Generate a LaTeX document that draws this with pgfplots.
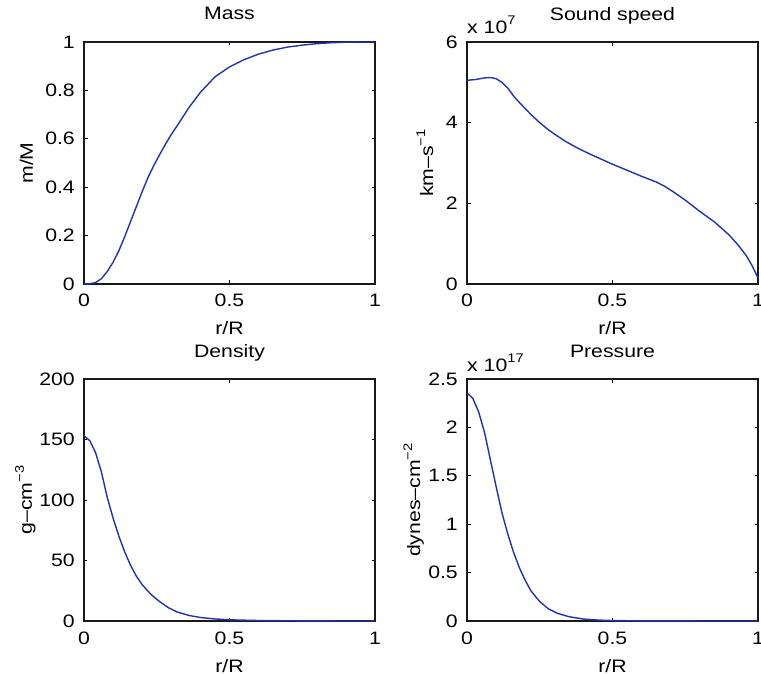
\documentclass[border=0pt]{standalone}
\usepackage{fontspec}
\setmainfont{Liberation Sans}[FakeStretch=1.18]
\usepackage{pgfplots}
\pgfplotsset{compat=1.18}

\definecolor{mblue}{RGB}{32,52,170}
\newcommand\supx[1]{\raisebox{0.45em}{\fontsize{12.5}{13}\selectfont #1}}
\newcommand\fs{\fontsize{18}{21}\selectfont}

\pgfplotsset{
  panel/.style={
    scale only axis, width=291pt, height=242pt,
    xmin=0, xmax=1, ymin=0,
    xtick={0,0.5,1},
    /pgf/number format/assume math mode=true,
    tick align=inside, major tick length=3.5pt,
    tick style={black, line width=0.8pt},
    axis line style={line width=1.1pt, black!90},
    xticklabel style={font=\fs, anchor=base, inner sep=0pt, yshift=-23pt},
    yticklabel style={font=\fs, anchor=east, inner sep=0pt, xshift=-9pt},
    title style={font=\fs, at={(rel axis cs:0.5,1)}, anchor=base, inner sep=0pt, yshift=16pt},
    xlabel style={font=\fs, at={(rel axis cs:0.5,0)}, anchor=base, inner sep=0pt, yshift=-51pt},
    ylabel style={font=\fs},
    xlabel={r/R},
    clip=false,
  },
  curve/.style={mblue, line width=1.4pt, no markers},
}

\begin{document}
\begin{tikzpicture}
\path[use as bounding box] (0,0) rectangle (761pt,673pt);

% Mass
\begin{axis}[panel, at={(84pt,389pt)}, anchor=south west,
  ymax=1, ytick={0,0.2,0.4,0.6,0.8,1},
  title={Mass},
  ylabel={m/M},
  ylabel style={at={(rel axis cs:-0.1753,0.5)}, anchor=base, inner sep=0pt}]
\addplot[curve] coordinates {
 (0,0) (0.02,0.001) (0.04,0.006) (0.06,0.022) (0.08,0.052) (0.10,0.09)
 (0.12,0.138) (0.14,0.196) (0.16,0.258) (0.18,0.32) (0.20,0.382)
 (0.22,0.44) (0.24,0.49) (0.26,0.535) (0.28,0.578) (0.30,0.618)
 (0.33,0.672) (0.36,0.728) (0.40,0.792) (0.45,0.856) (0.50,0.897)
 (0.55,0.927) (0.60,0.950) (0.65,0.967) (0.70,0.979) (0.75,0.987)
 (0.80,0.993) (0.85,0.997) (0.90,0.999) (0.95,1.0) (1.0,1.0)
};
\end{axis}

% Sound speed (x 10^7)
\begin{axis}[panel, at={(467pt,389pt)}, anchor=south west,
  ymax=6, ytick={0,2,4,6},
  title={Sound speed},
  ylabel={km--s\supx{−1}},
  ylabel style={at={(rel axis cs:-0.1164,0.5)}, anchor=base, inner sep=0pt}]
\addplot[curve] coordinates {
 (0,5.05) (0.03,5.07) (0.06,5.11) (0.08,5.12) (0.10,5.09) (0.12,5.00)
 (0.14,4.86) (0.16,4.66) (0.18,4.50) (0.20,4.35) (0.22,4.20) (0.25,4.00)
 (0.28,3.82) (0.31,3.67) (0.34,3.53) (0.38,3.37) (0.42,3.23) (0.46,3.10)
 (0.50,2.97) (0.55,2.82) (0.60,2.67) (0.65,2.53) (0.68,2.42) (0.71,2.28)
 (0.75,2.08) (0.80,1.80) (0.85,1.54) (0.90,1.22) (0.93,0.98) (0.96,0.70)
 (0.98,0.45) (1.0,0.15)
};
\node[font=\fs, anchor=base west, inner sep=0pt, yshift=9pt] at (rel axis cs:0,1) {x 10\supx{7}};
\end{axis}

% Density
\begin{axis}[panel, at={(84pt,52pt)}, anchor=south west,
  ymax=200, ytick={0,50,100,150,200},
  title={Density},
  ylabel={g--cm\supx{−3}},
  ylabel style={at={(rel axis cs:-0.1787,0.5)}, anchor=base, inner sep=0pt}]
\addplot[curve] coordinates {
 (0,153) (0.02,149) (0.04,139) (0.06,123) (0.08,102) (0.10,85)
 (0.12,70) (0.14,57) (0.16,46) (0.18,37) (0.20,30) (0.23,22)
 (0.26,16) (0.29,11) (0.32,7.5) (0.36,4.6) (0.40,2.9) (0.45,1.7)
 (0.50,1.0) (0.60,0.4) (0.70,0.2) (0.80,0.08) (0.90,0.02) (1.0,0)
};
\end{axis}

% Pressure (x 10^17)
\begin{axis}[panel, at={(467pt,52pt)}, anchor=south west,
  ymax=2.5, ytick={0,0.5,1,1.5,2,2.5},
  title={Pressure},
  ylabel={dynes--cm\supx{−2}},
  ylabel style={at={(rel axis cs:-0.161,0.5)}, anchor=base, inner sep=0pt}]
\addplot[curve] coordinates {
 (0,2.355) (0.02,2.30) (0.04,2.16) (0.06,1.95) (0.08,1.67) (0.10,1.39)
 (0.12,1.12) (0.14,0.90) (0.16,0.71) (0.18,0.55) (0.20,0.42) (0.22,0.31)
 (0.25,0.20) (0.28,0.125) (0.31,0.08) (0.35,0.045) (0.40,0.02) (0.45,0.01)
 (0.50,0.005) (0.60,0.001) (1.0,0)
};
\node[font=\fs, anchor=base west, inner sep=0pt, yshift=8pt] at (rel axis cs:0,1) {x 10\supx{17}};
\end{axis}
\end{tikzpicture}
\end{document}
